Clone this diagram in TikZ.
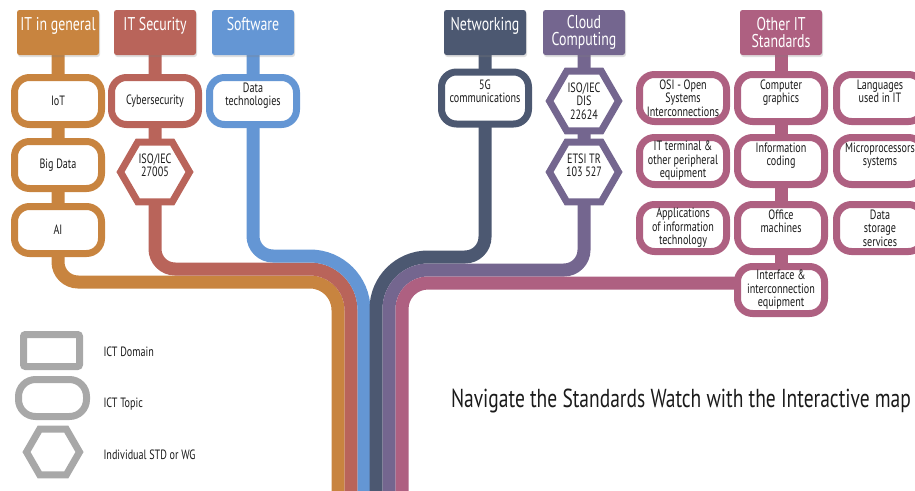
\documentclass[tikz,border=0pt]{standalone}
\usepackage{fontspec}
\setmainfont[FakeStretch=0.75]{PT Sans}
\usetikzlibrary{shapes.geometric,shadows,backgrounds}

\definecolor{itorange}{HTML}{C8843F}
\definecolor{itred}{HTML}{B9645A}
\definecolor{itblue}{HTML}{6496D4}
\definecolor{itnavy}{HTML}{4C5871}
\definecolor{itpurple}{HTML}{74668F}
\definecolor{itpink}{HTML}{AE6081}
\definecolor{itgray}{HTML}{A8A8A8}
\definecolor{ittext}{HTML}{1A1A1A}

\newcommand{\padline}{\\\mbox{}}

\tikzset{
  softshadow/.style={drop shadow={opacity=0.25, shadow xshift=1pt, shadow yshift=-2pt}},
  domainbox/.style={rectangle, rounded corners=2.5pt, fill=#1, text=white, minimum width=82pt, minimum height=45pt, inner sep=1pt, align=center, font=\fontsize{18.5}{17}\selectfont, softshadow},
  topicbox/.style={rectangle, rounded corners=15pt, draw=#1, line width=7pt, fill=white, text=ittext, minimum width=87pt, minimum height=47pt, inner sep=0pt, align=center, font=\fontsize{13.5}{13.5}\selectfont, softshadow},
  stdhex/.style={regular polygon, regular polygon sides=6, draw=#1, line width=7pt, fill=white, text=ittext, minimum size=69pt, inner sep=0pt, align=center, font=\fontsize{13.5}{13.5}\selectfont, softshadow},
  branch/.style={draw=#1, line width=13pt},
  legtext/.style={anchor=west, text=ittext, font=\fontsize{13.5}{15}\selectfont},
}

\begin{document}
\begin{tikzpicture}[x=1pt,y=-1pt,line cap=butt]
  \useasboundingbox (0,0) rectangle (915,490);

  % domains
  \node[domainbox=itorange] (itg) at (58,32.5) {IT in general\padline};
  \node[domainbox=itred] (itsec) at (155,32.5) {IT Security\padline};
  \node[domainbox=itblue] (sw) at (253,32.5) {Software\padline};
  \node[domainbox=itnavy] (netw) at (485,32.5) {Networking\padline};
  \node[domainbox=itpurple] (cloud) at (584,32.5) {Cloud\\Computing};
  \node[domainbox=itpink] (othit) at (781,32.5) {Other IT\\Standards};

  % topics and standards
  \node[topicbox=itorange] (iot) at (58,101) {IoT};
  \node[topicbox=itorange] (bigdata) at (58,165) {Big Data};
  \node[topicbox=itorange] (ai) at (58,230) {AI};
  \node[topicbox=itred] (cyber) at (155,101) {Cybersecurity};
  \node[stdhex=itred] (iso27005) at (155,172) {ISO/IEC\\27005\padline};
  \node[topicbox=itblue] (datatech) at (253,101) {Data\\technologies\padline};
  \node[topicbox=itnavy, minimum height=52pt] (fiveg) at (485,98) {5G\\communications\padline};
  \node[stdhex=itpurple] (iso22624) at (584,101) {ISO/IEC\\DIS\\22624};
  \node[stdhex=itpurple] (etsi) at (584,172) {ETSI TR\\103 527\padline};

  % other IT standards
  \node[topicbox=itpink] (osi) at (683,98) {OSI - Open\\Systems\\Interconnections};
  \node[topicbox=itpink] (compgraph) at (781,98) {Computer\\graphics\padline};
  \node[topicbox=itpink] (langs) at (880,98) {Languages\\used in IT\padline};
  \node[topicbox=itpink] (itterm) at (683,161) {IT terminal \&\\other peripheral\\equipment};
  \node[topicbox=itpink] (infocoding) at (781,161) {Information\\coding\padline};
  \node[topicbox=itpink] (microproc) at (880,161) {Microprocessors\\systems\padline};
  \node[topicbox=itpink] (apps) at (683,228) {Applications\\of information\\technology};
  \node[topicbox=itpink] (office) at (781,228) {Office\\machines\padline};
  \node[topicbox=itpink] (datastor) at (880,228) {Data\\storage\\services};
  \node[topicbox=itpink] (interface) at (781,290) {Interface \&\\interconnection\\equipment};
  \coordinate (pinkstart) at (781,283);

  % branches
  \begin{scope}[on background layer]
    \draw[branch=itorange] (itg.center) -- (ai.center) -- (58,262) .. controls +(0,11) and +(-11,0) .. (78,282)
      -- (310,282) .. controls +(15.5,0) and +(0,-15.5) .. (338,310) -- (338,495);
    \draw[branch=itred] (itsec.center) -- (iso27005.center) -- (155,249) .. controls +(0,11) and +(-11,0) .. (175,269)
      -- (310,269) .. controls +(22.6,0) and +(0,-22.6) .. (351,310) -- (351,495);
    \draw[branch=itblue] (sw.center) -- (datatech.center) -- (253,236) .. controls +(0,11) and +(-11,0) .. (273,256)
      -- (310,256) .. controls +(29.8,0) and +(0,-29.8) .. (364,310) -- (364,495);
    \draw[branch=itnavy] (netw.center) -- (fiveg.center) -- (485,237) .. controls +(0,11) and +(11,0) .. (465,257)
      -- (428,257) .. controls +(-28.7,0) and +(0,-28.7) .. (376,309) -- (376,495);
    \draw[branch=itpurple] (cloud.center) -- (etsi.center) -- (584,250) .. controls +(0,11) and +(11,0) .. (564,270)
      -- (428,270) .. controls +(-21.5,0) and +(0,-21.5) .. (389,309) -- (389,495);
    \draw[branch=itpink] (othit.center) -- (interface.center);
    \draw[branch=itpink] (pinkstart) -- (428,283) .. controls +(-14.4,0) and +(0,-14.4) .. (402,309) -- (402,495);
  \end{scope}

  % legend
  \node[topicbox=itgray, rounded corners=2pt, minimum width=56pt, minimum height=32pt] (lgdomain) at (51.5,350.5) {};
  \node[topicbox=itgray, rounded corners=17pt, minimum width=68pt, minimum height=37pt] (lgtopic) at (52.5,398) {};
  \node[stdhex=itgray, minimum size=53pt] (lgstd) at (53,452) {};
  \node[legtext] (lgdomaintxt) at (100,352) {ICT Domain};
  \node[legtext] (lgtopictxt) at (100,404) {ICT Topic};
  \node[legtext] (lgstdtxt) at (100,455) {Individual STD or WG};

  \node[text=ittext, font=\fontsize{26}{30}\selectfont] (navigate) at (681,401) {Navigate the Standards Watch with the Interactive map};
\end{tikzpicture}
\end{document}
